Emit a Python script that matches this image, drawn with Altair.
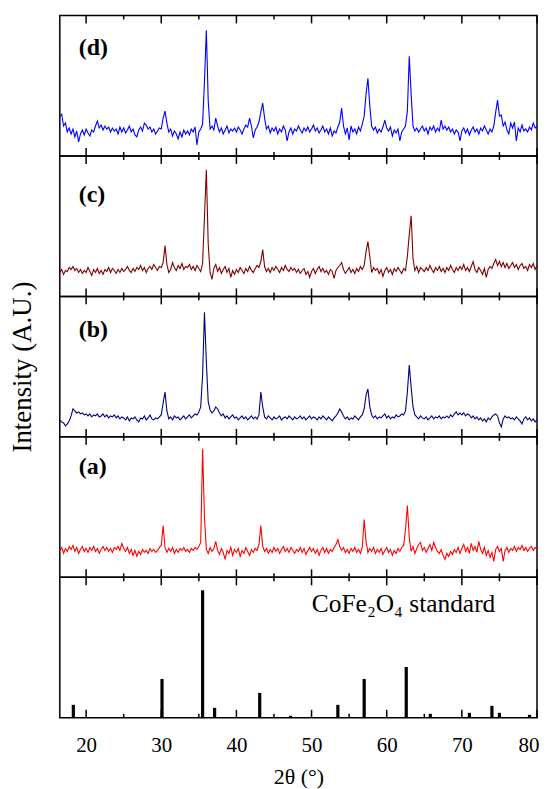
import altair as alt
import pandas as pd

# 2-theta grid (degrees) shared by all measured patterns
X_START, X_STEP, N = 16.5, 0.25, 255
two_theta = [round(X_START + X_STEP * i, 2) for i in range(N)]

# (d) intensities (a.u.)
d_vals = [
    40, 42, 30, 33, 24, 28, 22, 27, 19, 25, 14, 22, 26, 21,
    27, 23, 20, 26, 24, 30, 35, 28, 31, 26, 30, 27, 29, 24, 28, 25, 27, 22, 29, 24,
    28, 23, 26, 30, 24, 27, 21, 19, 26, 29, 25, 33, 31, 27, 29, 24, 27, 22, 25, 28,
    27, 38, 45, 33, 24, 27, 20, 25, 22, 17, 24, 19, 26, 22, 25, 21, 27, 24, 29, 11,
    24, 27, 32, 75, 126, 55, 27, 30, 26, 38, 30, 24, 28, 22, 26, 30, 23, 27, 25, 28,
    24, 29, 26, 22, 27, 31, 29, 38, 30, 18, 26, 29, 34, 44, 53, 38, 27, 30, 23, 28,
    25, 29, 22, 27, 24, 30, 26, 15, 24, 28, 22, 27, 25, 30, 26, 23, 28, 25, 29, 24,
    27, 31, 25, 28, 23, 26, 30, 24, 27, 22, 28, 20, 25, 23, 29, 34, 48, 30, 22, 28,
    16, 30, 24, 27, 22, 29, 25, 32, 40, 62, 78, 50, 30, 26, 29, 23, 27, 24, 29, 36,
    28, 25, 29, 20, 26, 23, 27, 15, 24, 27, 30, 45, 100, 62, 30, 25, 28, 24, 27, 30,
    25, 28, 22, 29, 26, 30, 24, 28, 25, 36, 27, 30, 26, 29, 24, 27, 22, 26, 24, 15,
    25, 28, 23, 27, 21, 26, 29, 24, 27, 22, 28, 25, 30, 26, 22, 27, 24, 30, 44, 56,
    40, 41, 30, 34, 26, 22, 33, 28, 34, 15, 28, 24, 31, 25, 27, 24, 29, 26, 33, 28,
    30,
]

# (c) intensities (a.u.)
c_vals = [
    24, 27, 22, 26, 25, 29, 27, 30, 26, 28, 24, 27, 23, 26,
    24, 29, 25, 21, 27, 24, 28, 23, 26, 22, 27, 25, 29, 24, 28, 26, 23, 27, 24, 28,
    25, 27, 30, 26, 24, 28, 25, 29, 27, 31, 26, 29, 24, 28, 30, 27, 32, 29, 26, 30,
    29, 34, 51, 32, 24, 27, 34, 29, 26, 31, 28, 33, 27, 30, 29, 32, 27, 30, 26, 31,
    28, 25, 33, 80, 127, 52, 24, 17, 28, 32, 25, 29, 23, 27, 30, 24, 28, 19, 26, 22,
    27, 24, 29, 26, 23, 28, 25, 30, 26, 24, 28, 31, 29, 35, 47, 30, 25, 28, 24, 29,
    26, 30, 27, 24, 29, 26, 31, 27, 25, 29, 26, 28, 24, 27, 23, 26, 28, 22, 25, 19,
    25, 28, 23, 27, 30, 25, 28, 24, 26, 22, 27, 25, 18, 26, 29, 31, 34, 27, 23, 26,
    29, 24, 27, 23, 28, 25, 30, 27, 31, 45, 55, 40, 24, 29, 26, 28, 23, 27, 20, 26,
    29, 24, 27, 22, 28, 25, 29, 26, 23, 28, 26, 40, 62, 81, 38, 26, 30, 24, 29, 27,
    25, 29, 26, 31, 27, 24, 29, 26, 30, 25, 28, 24, 29, 26, 31, 27, 24, 29, 26, 30,
    27, 32, 26, 29, 25, 30, 35, 27, 24, 29, 26, 22, 28, 19, 27, 30, 28, 33, 37, 31,
    35, 30, 34, 29, 33, 28, 31, 34, 29, 32, 27, 31, 33, 28, 30, 26, 32, 29, 33, 27,
    31,
]

# (b) intensities (a.u.)
b_vals = [
    17, 15, 14, 11, 13, 16, 21, 28, 26, 24, 25, 23, 24, 22,
    23, 21, 23, 20, 22, 21, 23, 20, 21, 23, 20, 22, 19, 21, 20, 22, 19, 21, 18, 20,
    19, 17, 20, 16, 19, 18, 20, 17, 15, 19, 18, 21, 17, 19, 22, 18, 17, 19, 18, 20,
    22, 34, 45, 26, 18, 20, 17, 21, 19, 20, 17, 19, 21, 18, 20, 22, 19, 21, 23, 22,
    25, 30, 62, 125, 75, 35, 27, 24, 26, 30, 28, 24, 21, 23, 19, 21, 18, 20, 22, 19,
    20, 17, 19, 21, 18, 20, 17, 19, 21, 18, 20, 18, 22, 45, 30, 20, 18, 21, 19, 17,
    20, 18, 19, 21, 17, 19, 20, 18, 21, 19, 17, 20, 18, 19, 21, 18, 20, 17, 19, 21,
    18, 20, 19, 17, 20, 18, 21, 19, 17, 20, 18, 16, 19, 21, 24, 28, 25, 21, 18, 20,
    17, 19, 18, 21, 19, 17, 20, 22, 28, 42, 48, 30, 22, 19, 21, 18, 20, 19, 21, 23,
    19, 21, 18, 20, 19, 22, 20, 21, 23, 22, 26, 45, 72, 50, 30, 22, 20, 18, 21, 19,
    18, 20, 17, 19, 21, 18, 20, 19, 21, 18, 20, 19, 21, 19, 22, 20, 23, 25, 22, 24,
    22, 24, 21, 23, 22, 19, 21, 18, 20, 17, 19, 16, 18, 15, 19, 17, 20, 22, 23, 21,
    14, 10, 18, 21, 19, 20, 18, 19, 17, 20, 18, 16, 13, 18, 20, 17, 19, 16, 18, 15,
    17,
]

# (a) intensities (a.u.)
a_vals = [
    27, 30, 24, 29, 26, 31, 28, 32, 26, 30, 24, 28, 31, 26,
    29, 25, 30, 27, 31, 26, 29, 24, 28, 31, 27, 30, 26, 29, 25, 30, 28, 31, 27, 34,
    29, 26, 30, 24, 28, 22, 27, 21, 26, 23, 28, 25, 27, 24, 29, 26, 28, 25, 27, 30,
    32, 52, 30, 25, 29, 26, 30, 24, 28, 25, 29, 27, 30, 26, 28, 25, 29, 27, 30, 28,
    31, 35, 129, 60, 28, 24, 30, 26, 29, 36, 27, 23, 29, 25, 18, 27, 24, 30, 22, 28,
    25, 29, 21, 27, 24, 30, 26, 22, 28, 25, 29, 27, 33, 52, 31, 26, 29, 24, 28, 25,
    30, 26, 29, 24, 28, 31, 26, 29, 25, 30, 27, 24, 28, 26, 30, 25, 29, 23, 27, 30,
    26, 29, 24, 28, 22, 27, 30, 25, 29, 24, 28, 26, 30, 33, 38, 31, 27, 30, 25, 28,
    24, 29, 26, 30, 25, 28, 24, 30, 58, 36, 25, 29, 26, 30, 24, 28, 25, 29, 23, 27,
    30, 25, 28, 22, 27, 24, 29, 26, 30, 32, 48, 72, 40, 26, 31, 24, 29, 33, 35, 27,
    30, 25, 29, 33, 27, 35, 30, 26, 24, 28, 22, 18, 24, 21, 26, 23, 28, 25, 30, 24,
    29, 33, 26, 30, 24, 34, 27, 31, 25, 36, 28, 24, 30, 22, 27, 20, 25, 16, 28, 31,
    26, 29, 16, 27, 30, 25, 29, 27, 31, 26, 30, 28, 32, 27, 30, 26, 29, 31, 27, 30,
    28,
]

# CoFe2O4 standard reflections
std_pos = [18.3, 30.1, 35.5, 37.1, 43.1, 47.2, 53.5, 57.0, 62.6, 65.8, 71.0, 74.0, 75.0, 79.0]
std_int = [13, 39, 128, 10, 25, 2, 13, 39, 51, 4, 5, 12, 5, 3]

major_ticks = [20, 30, 40, 50, 60, 70, 80]
minor_ticks = [25, 35, 45, 55, 65, 75]

for arr in (d_vals, c_vals, b_vals, a_vals):
    assert len(arr) == N, len(arr)

W, H = 479, 141
SERIF = "Liberation Serif, Times New Roman, serif"

xscale = alt.Scale(domain=[16.5, 80], nice=False, zero=False)
yscale = alt.Scale(domain=[0, 141], nice=False, zero=False)

ticks_df = pd.DataFrame(
    {"t": major_ticks + minor_ticks,
     "kind": ["major"] * len(major_ticks) + ["minor"] * len(minor_ticks)}
)


def y_axis(show):
    if not show:
        return None
    return alt.Axis(title="Intensity (A.U.)", labels=False, ticks=False, domain=False,
                    grid=False, titlePadding=23, titleFont=SERIF, titleFontSize=27,
                    titleFontWeight="normal", titleColor="black")


def x_enc(bottom):
    if bottom:
        ax = alt.Axis(values=major_ticks, title="2θ (°)", ticks=False, domain=False,
                      grid=False, labelFont=SERIF, labelFontSize=21, labelColor="black",
                      labelPadding=17, labelFlush=True, labelFlushOffset=2,
                      labelOverlap=False,
                      titleFont=SERIF, titleFontSize=22,
                      titleFontWeight="normal", titleColor="black", titlePadding=11,
                      format="d")
    else:
        ax = None
    return alt.X("t:Q", scale=xscale, axis=ax)


def tick_layers(bottom):
    layers = []
    for kind, ln in (("major", 8), ("minor", 4)):
        base = alt.Chart(ticks_df).transform_filter(alt.datum.kind == kind).mark_rule(
            color="black", strokeWidth=1.5)
        layers.append(base.encode(x=x_enc(bottom), y=alt.value(0), y2=alt.value(ln)))
        layers.append(base.encode(x=x_enc(bottom), y=alt.value(H - ln), y2=alt.value(H)))
    return layers


def label_layer(txt, ypos):
    return alt.Chart(pd.DataFrame({"lab": [txt]})).mark_text(
        font=SERIF, fontSize=24, fontWeight="bold", align="left", baseline="middle",
        color="black").encode(text="lab:N", x=alt.value(19), y=alt.value(ypos))


def pattern_panel(vals, color, label, ypos, show_title):
    df = pd.DataFrame({"t": two_theta, "v": vals})
    line = alt.Chart(df).mark_line(color=color, strokeWidth=1.1).encode(
        x=x_enc(False), y=alt.Y("v:Q", scale=yscale, axis=y_axis(show_title)))
    return alt.layer(line, *tick_layers(False), label_layer(label, ypos)).properties(
        width=W, height=H)


std_df = pd.DataFrame({"t": std_pos, "v": std_int})
std_bars = alt.Chart(std_df).mark_rule(color="black", strokeWidth=3.2).encode(
    x=x_enc(True), y=alt.Y("v:Q", scale=yscale, axis=None), y2=alt.datum(0))
std_text = alt.Chart(pd.DataFrame({"lab": ["CoFe₂O₄ standard"]})).mark_text(
    font=SERIF, fontSize=25.5, align="left", baseline="alphabetic", color="black").encode(
    text="lab:N", x=alt.value(253), y=alt.value(35))
std_panel = alt.layer(std_bars, *tick_layers(True), std_text).properties(width=W, height=H)

chart = alt.vconcat(
    pattern_panel(d_vals, "#0000ff", "(d)", 33, False),
    pattern_panel(c_vals, "#800000", "(c)", 39, False),
    pattern_panel(b_vals, "#000080", "(b)", 34, True),
    pattern_panel(a_vals, "#ff0000", "(a)", 30, False),
    std_panel,
    spacing=0,
    bounds="flush",
).properties(
    padding={"left": 0, "top": 4, "right": 0, "bottom": 0}
).configure_view(
    stroke="black", strokeWidth=1.5
)

chart.save("out.html", embed_options={"renderer": "svg", "actions": False})
